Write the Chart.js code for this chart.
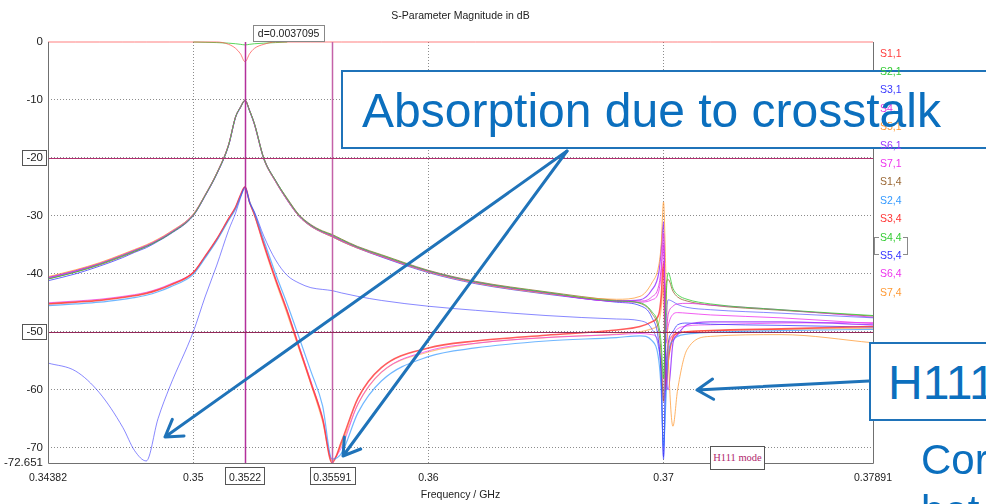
<!DOCTYPE html>
<html>
<head>
<meta charset="utf-8">
<script src="https://cdn.jsdelivr.net/npm/chart.js@4/dist/chart.umd.min.js"></script>
<style>
  body { margin: 0; background: #fff; }
  #wrap { position: relative; width: 986px; height: 504px; overflow: hidden; font-family: "Liberation Sans", Arial, sans-serif; }
  #chart { position: absolute; left: 0; top: 0; }
  .callout { position: absolute; box-sizing: border-box; border: 2px solid #1f73b9; background: #fff; z-index: 1; }
  #legend { position: absolute; left: 880px; top: 0; z-index: 2; font-size: 10.5px; }
  #legend div { position: absolute; left: 0; white-space: nowrap; line-height: 12px; }
  .bracket { position: absolute; width: 4px; height: 16px; border: 1px solid #8a8a8a; z-index: 2; }
  .note { position: absolute; z-index: 3; color: #0b6fbe; font-size: 48px; line-height: 48px; white-space: nowrap; }
  .note.small { font-size: 42px; line-height: 42px; }
  #h111 { position: absolute; left: 710px; top: 446px; width: 55px; height: 24px; box-sizing: border-box; border: 1.5px solid #555; background: #fff;
          font: 10.5px "Liberation Serif", serif; color: #b0286e; text-align: center; line-height: 21px; z-index: 1; }
  #arrows { position: absolute; left: 0; top: 0; z-index: 4; }
</style>
</head>
<body>
<div id="wrap">
  <canvas id="chart" width="986" height="504"></canvas>
  <div class="callout" style="left:341px;top:70px;width:700px;height:79px"></div>
  <div id="legend"></div>
  <div class="bracket" style="left:874px;top:237px;border-right:none"></div>
  <div class="bracket" style="left:903px;top:237px;border-left:none"></div>
  <div class="note" style="left:362px;top:87px">Absorption due to crosstalk</div>
  <div class="callout" style="left:869px;top:342px;width:200px;height:79px"></div>
  <div class="note" style="left:888px;top:359px">H111 mode</div>
  <div class="note small" style="left:921px;top:439px">Cor</div>
  <div class="note small" style="left:921px;top:490px">bet</div>
  <div id="h111">H111 mode</div>
  <svg id="arrows" width="986" height="504"></svg>
</div>
<script>
// frequency grid (GHz), shared by every trace
const freq = [
  0.34382, 0.345, 0.346, 0.347, 0.3475, 0.348, 0.3485, 0.349, 0.35, 0.3505,
  0.351, 0.3515, 0.3518, 0.352, 0.3522, 0.3524, 0.3526, 0.353, 0.3535, 0.354,
  0.3545, 0.355, 0.3555, 0.3559, 0.3563, 0.357, 0.358, 0.36, 0.362, 0.365,
  0.368, 0.369, 0.3695, 0.3698, 0.3699, 0.37, 0.3701, 0.3702, 0.3704, 0.3706,
  0.371, 0.372, 0.375, 0.37891
];

// magnitudes in dB (null = not visible, hidden under the top trace)
const s11 = [
  0, 0, 0, 0, 0, 0, 0, 0, 0, 0,
  0, -0.4, -1.1, -2.0, -3.4, -2.0, -1.1, -0.4, 0, 0,
  0, 0, 0, 0, 0, 0, 0, 0, 0, 0,
  0, 0, 0, 0, 0, 0, 0, 0, 0, 0,
  0, 0, 0, 0
];
const s21 = [
  -40.9, -39.7, -38.4, -36.9, -36.1, -35.3, -34.3, -33.1, -29.9, -26.5,
  -22.7, -17.8, -12.9, -11.3, -10.1, -11.9, -14.1, -20.1, -23.9, -27.1,
  -29.9, -31.6, -32.7, -33.3, -34.1, -35.4, -36.8, -39.5, -41.4, -43.2,
  -44.7, -45.0, -46.5, -49.0, -52.0, -58.0, -45.0, -39.8, -42.5, -43.6,
  -44.4, -45.2, -46.2, -47.2
];
const s31 = [
  -55.4, -56.8, -60.5, -66.5, -70.5, -72.3, -65.0, -59.5, -50.0, -44.0,
  -38.5, -32.5, -29.5, -27.0, -25.0, -27.8, -29.3, -33.5, -37.6, -40.3,
  -41.6, -42.4, -42.7, -42.9, -43.3, -43.9, -44.6, -45.6, -46.3, -47.2,
  -47.8, -48.1, -49.5, -53.0, -57.0, -72.0, -50.0, -44.5, -44.8, -45.3,
  -45.8, -46.2, -46.8, -47.6
];
const s41 = [
  -40.8, -39.6, -38.3, -36.8, -36.0, -35.2, -34.2, -33.0, -29.9, -26.5,
  -22.7, -17.8, -12.9, -11.3, -10.1, -11.9, -14.2, -20.1, -24.0, -27.2,
  -30.0, -31.7, -32.8, -33.4, -34.2, -35.5, -36.9, -39.6, -41.5, -43.3,
  -44.7, -44.7, -44.0, -42.0, -39.0, -33.0, -50.0, -47.0, -45.6, -45.2,
  -45.1, -45.4, -46.2, -47.5
];
const s51 = [
  -40.5, -39.3, -38.1, -36.6, -35.8, -35.0, -34.0, -32.8, -29.7, -26.4,
  -22.6, -17.7, -12.9, -11.3, -10.1, -11.9, -14.2, -20.2, -24.1, -27.3,
  -30.1, -31.8, -32.9, -33.6, -34.4, -35.6, -37.0, -39.7, -41.6, -43.4,
  -44.4, -43.9, -41.6, -38.5, -35.0, -27.6, -40.0, -54.0, -66.3, -60.0,
  -53.1, -50.8, -50.5, -51.9
];
const s61 = [
  -40.7, -39.5, -38.3, -36.8, -36.0, -35.2, -34.2, -33.0, -29.8, -26.5,
  -22.7, -17.8, -12.9, -11.3, -10.1, -11.9, -14.2, -20.2, -24.0, -27.3,
  -30.0, -31.7, -32.8, -33.5, -34.3, -35.5, -37.0, -39.6, -41.5, -43.3,
  -44.7, -44.5, -42.8, -39.8, -36.0, -31.0, -55.0, -60.0, -52.0, -50.5,
  -48.8, -48.3, -48.3, -48.8
];
const s71 = [
  -40.6, -39.4, -38.2, -36.7, -35.9, -35.1, -34.1, -32.9, -29.8, -26.4,
  -22.6, -17.7, -12.9, -11.3, -10.1, -11.9, -14.1, -20.1, -24.0, -27.2,
  -30.0, -31.6, -32.8, -33.4, -34.2, -35.4, -36.9, -39.5, -41.4, -43.3,
  -44.8, -44.9, -44.5, -43.0, -40.0, -35.0, -52.0, -49.0, -47.0, -46.7,
  -46.8, -47.1, -47.6, -48.6
];
const s14 = [
  -40.9, -39.7, -38.5, -37.0, -36.2, -35.3, -34.3, -33.1, -29.9, -26.5,
  -22.7, -17.8, -12.9, -11.3, -10.0, -11.9, -14.1, -20.0, -23.9, -27.0,
  -29.8, -31.5, -32.6, -33.2, -34.0, -35.3, -36.7, -39.4, -41.3, -43.1,
  -44.6, -45.1, -46.8, -50.0, -54.0, -62.0, -42.0, -41.0, -43.0, -44.0,
  -44.7, -45.4, -46.3, -47.3
];
const s24 = [
  -45.5, -45.2, -44.9, -44.4, -44.1, -43.7, -43.1, -42.3, -40.1, -37.3,
  -34.3, -30.8, -28.8, -26.8, -25.3, -27.6, -29.5, -34.2, -40.0, -45.3,
  -51.0, -56.8, -62.8, -72.0, -71.0, -64.0, -58.5, -54.3, -52.8, -51.6,
  -51.0, -50.7, -51.5, -55.0, -60.0, -70.0, -62.0, -54.0, -51.5, -50.8,
  -50.4, -50.1, -49.8, -49.6
];
const s34 = [
  -45.2, -44.9, -44.6, -44.1, -43.8, -43.4, -42.8, -42.0, -39.8, -37.0,
  -34.0, -30.5, -28.5, -26.5, -25.0, -27.7, -29.7, -34.8, -40.9, -46.5,
  -52.7, -58.8, -65.0, -72.6, -69.0, -61.5, -56.2, -52.8, -51.6, -50.6,
  -49.7, -49.1, -48.3, -47.0, -44.0, -38.0, -60.0, -55.0, -51.0, -50.3,
  -50.0, -49.8, -49.5, -49.1
];
const s44 = [
  null, null, null, null, null, null, null, null, 0, -0.05,
  -0.1, -0.2, -0.3, -0.4, -0.5, -0.4, -0.3, -0.2, -0.1, 0,
  null, null, null, null, null, null, null, null, null, null,
  null, null, null, null, null, null, null, null, null, null,
  null, null, null, null
];
const s54 = [
  -41.2, -40.0, -38.7, -37.2, -36.3, -35.5, -34.4, -33.2, -30.0, -26.6,
  -22.8, -17.9, -13.0, -11.4, -10.1, -12.0, -14.2, -20.2, -24.1, -27.3,
  -30.1, -31.8, -32.9, -33.6, -34.4, -35.6, -37.1, -39.8, -41.7, -43.5,
  -44.9, -45.5, -47.5, -52.0, -58.0, -71.5, -58.0, -52.0, -50.0, -48.8,
  -48.5, -48.7, -48.9, -49.2
];
const s64 = [
  -45.0, -44.7, -44.4, -43.9, -43.6, -43.2, -42.6, -41.8, -39.7, -37.0,
  -34.0, -30.5, -28.5, -26.5, -25.1, -27.7, -29.8, -35.0, -41.0, -46.5,
  -52.5, -58.5, -65.0, -72.0, -70.0, -62.5, -57.0, -53.3, -52.0, -51.0,
  -50.5, -50.3, -50.5, -52.0, -56.0, -62.0, -58.0, -53.0, -50.5, -49.5,
  -49.0, -48.8, -48.5, -48.4
];
const s74 = [
  -45.1, -44.8, -44.5, -44.0, -43.7, -43.3, -42.7, -41.9, -39.8, -37.1,
  -34.1, -30.6, -28.6, -26.6, -25.1, -27.8, -29.9, -35.2, -41.3, -47.0,
  -53.0, -59.0, -65.5, -72.3, -69.5, -62.5, -57.0, -53.5, -52.0, -51.0,
  -50.4, -50.0, -49.5, -48.5, -46.0, -42.0, -55.0, -52.0, -50.6, -50.2,
  -50.0, -49.8, -49.6, -49.4
];

const seriesNames = ['S1,1', 'S2,1', 'S3,1', 'S4,1', 'S5,1', 'S6,1', 'S7,1',
                     'S1,4', 'S2,4', 'S3,4', 'S4,4', 'S5,4', 'S6,4', 'S7,4'];
const seriesValues = [s11, s21, s31, s41, s51, s61, s71, s14, s24, s34, s44, s54, s64, s74];
const seriesColors = ['#ff3b3b', '#33cc33', '#3838ff', '#e033e0', '#ff9933', '#9933ff', '#ee33ee',
                      '#996633', '#3399ff', '#ff3333', '#33cc33', '#3333ff', '#ee33ee', '#ff9933'];

// axes
const xTickValues = [0.34382, 0.35, 0.3522, 0.35591, 0.36, 0.37, 0.37891];
const xTickLabels = ['0.34382', '0.35', '0.3522', '0.35591', '0.36', '0.37', '0.37891'];
const xGridValues = [0.35, 0.36, 0.37];
const yTickValues = [0, -10, -20, -30, -40, -50, -60, -70, -72.651];
const yTickLabels = ['0', '-10', '-20', '-30', '-40', '-50', '-60', '-70', '-72.651'];
const yGridValues = [-10, -20, -30, -40, -50, -60, -70];

// markers
const markerFreqs = [0.3522, 0.35591];
const markerLevels = [-20, -50];
const markerDelta = 'd=0.0037095';

const lineAlpha = [0.65, 0.8, 0.6, 0.8, 0.75, 0.85, 0.8, 0.8, 0.7, 0.8, 0.8, 0.75, 0.7, 0.6];
const lineWidth = [1, 1, 1, 1, 1, 1.2, 1, 1, 1.2, 1.6, 1, 1, 1, 1.2];

const hexA = (hex, a) => {
  const n = parseInt(hex.slice(1), 16);
  return `rgba(${n >> 16},${(n >> 8) & 255},${n & 255},${a})`;
};

const tickFont = { family: '"Liberation Sans", Arial, sans-serif', size: 10.5 };

const overlay = {
  id: 'overlay',
  afterDatasetsDraw(chart) {
    const { ctx, chartArea: a, scales: { x, y } } = chart;
    ctx.save();
    const vColors = ['#b3309b', '#c462a8'];
    markerFreqs.forEach((f, i) => {
      const px = Math.round(x.getPixelForValue(f)) + 0.5;
      ctx.strokeStyle = vColors[i];
      ctx.lineWidth = 1.5;
      ctx.beginPath(); ctx.moveTo(px, a.top); ctx.lineTo(px, a.bottom); ctx.stroke();
    });
    const hColors = ['#b03070', '#94285a'];
    markerLevels.forEach((v, i) => {
      const py = Math.round(y.getPixelForValue(v)) + 0.5;
      ctx.strokeStyle = hColors[i];
      ctx.lineWidth = 1.2;
      ctx.beginPath(); ctx.moveTo(a.left, py); ctx.lineTo(a.right, py); ctx.stroke();
    });
    // frame
    ctx.strokeStyle = '#707070';
    ctx.lineWidth = 1;
    ctx.beginPath();
    ctx.moveTo(a.left + 0.5, a.top);
    ctx.lineTo(a.left + 0.5, a.bottom + 0.5);
    ctx.lineTo(a.right + 0.5, a.bottom + 0.5);
    ctx.lineTo(a.right + 0.5, a.top);
    ctx.stroke();
    ctx.restore();
  },
  afterDraw(chart) {
    const { ctx, chartArea: a, scales: { x, y } } = chart;
    ctx.save();
    ctx.font = '10.5px "Liberation Sans", Arial, sans-serif';
    ctx.strokeStyle = '#555';
    ctx.lineWidth = 1;
    // boxes round the marker tick labels
    markerFreqs.forEach(f => {
      const px = x.getPixelForValue(f);
      const w = ctx.measureText(xTickLabels[xTickValues.indexOf(f)]).width + 7;
      ctx.strokeRect(Math.round(px - w / 2) + 0.5, a.bottom + 4.5, Math.round(w), 17);
    });
    ctx.font = '11.5px "Liberation Sans", Arial, sans-serif';
    markerLevels.forEach(v => {
      const py = y.getPixelForValue(v);
      const w = ctx.measureText(yTickLabels[yTickValues.indexOf(v)]).width + 7;
      ctx.strokeRect(Math.round(a.left - 2 - w) + 0.5, Math.round(py - 7.5) + 0.5, Math.round(w), 15);
    });
    // delta label between the two frequency markers
    ctx.font = '10.5px "Liberation Sans", Arial, sans-serif';
    const mid = (x.getPixelForValue(markerFreqs[0]) + x.getPixelForValue(markerFreqs[1])) / 2;
    const dw = ctx.measureText(markerDelta).width + 9;
    ctx.fillStyle = '#fff';
    ctx.fillRect(Math.round(mid - dw / 2) + 0.5, 25.5, Math.round(dw), 16);
    ctx.strokeStyle = '#888';
    ctx.strokeRect(Math.round(mid - dw / 2) + 0.5, 25.5, Math.round(dw), 16);
    ctx.fillStyle = '#222';
    ctx.textAlign = 'center';
    ctx.textBaseline = 'middle';
    ctx.fillText(markerDelta, mid, 34);
    // titles
    const cx = (a.left + a.right) / 2;
    ctx.fillText('S-Parameter Magnitude in dB', cx, 16);
    ctx.fillText('Frequency / GHz', cx, 495);
    ctx.restore();
  }
};

new Chart(document.getElementById('chart'), {
  type: 'line',
  data: {
    datasets: seriesNames.map((name, i) => ({
      label: name,
      data: freq.map((f, j) => ({ x: f, y: seriesValues[i][j] })),
      borderColor: hexA(seriesColors[i], lineAlpha[i]),
      borderWidth: lineWidth[i],
      pointRadius: 0,
      cubicInterpolationMode: 'monotone',
      spanGaps: false,
      clip: 3
    }))
  },
  options: {
    responsive: false,
    animation: false,
    devicePixelRatio: 1,
    layout: { padding: { left: 0, top: 42, right: 113, bottom: 0 } },
    plugins: { legend: { display: false }, tooltip: { enabled: false } },
    scales: {
      x: {
        type: 'linear',
        min: 0.34382,
        max: 0.37891,
        afterBuildTicks: s => { s.ticks = xTickValues.map(v => ({ value: v })); },
        afterFit: s => { s.height = 41; },
        grid: {
          drawTicks: false,
          color: c => (c.tick && xGridValues.includes(c.tick.value) ? '#8c8c8c' : 'rgba(0,0,0,0)'),
          lineWidth: 1
        },
        border: { display: false, dash: [1, 2] },
        ticks: {
          autoSkip: false,
          maxRotation: 0,
          padding: 9,
          color: '#222',
          font: tickFont,
          callback: (v, i) => xTickLabels[i]
        }
      },
      y: {
        type: 'linear',
        min: -72.651,
        max: 0,
        afterBuildTicks: s => { s.ticks = yTickValues.map(v => ({ value: v })); },
        afterFit: s => { s.width = 48; },
        grid: {
          drawTicks: false,
          color: c => (c.tick && yGridValues.includes(c.tick.value) ? '#8c8c8c' : 'rgba(0,0,0,0)'),
          lineWidth: 1
        },
        border: { display: false, dash: [1, 2] },
        ticks: {
          autoSkip: false,
          padding: 5,
          color: '#222',
          font: { family: tickFont.family, size: 11.5 },
          callback: (v, i) => yTickLabels[i]
        }
      }
    }
  },
  plugins: [overlay]
});

// legend column at the right
const legend = document.getElementById('legend');
seriesNames.forEach((name, i) => {
  const d = document.createElement('div');
  d.textContent = name;
  d.style.color = seriesColors[i];
  d.style.top = (46.5 + 18.4 * i) + 'px';
  legend.appendChild(d);
});

// callout arrows (slide annotation, page pixels)
const arrows = [[567, 151, 165, 437], [567, 151, 343, 456], [869, 381, 697, 390]];
const arrowPath = ([x1, y1, x2, y2]) => {
  const ang = Math.atan2(y2 - y1, x2 - x1), len = 19, spread = 0.56;
  const wing = s => `${(x2 - len * Math.cos(ang + s * spread)).toFixed(1)} ${(y2 - len * Math.sin(ang + s * spread)).toFixed(1)}`;
  return `M${x1} ${y1}L${x2} ${y2}M${wing(1)}L${x2} ${y2}L${wing(-1)}`;
};
document.getElementById('arrows').innerHTML = arrows
  .map(a => `<path d="${arrowPath(a)}" fill="none" stroke="#1f73b9" stroke-width="3" stroke-linecap="round" stroke-linejoin="round"/>`)
  .join('');
</script>
</body>
</html>
